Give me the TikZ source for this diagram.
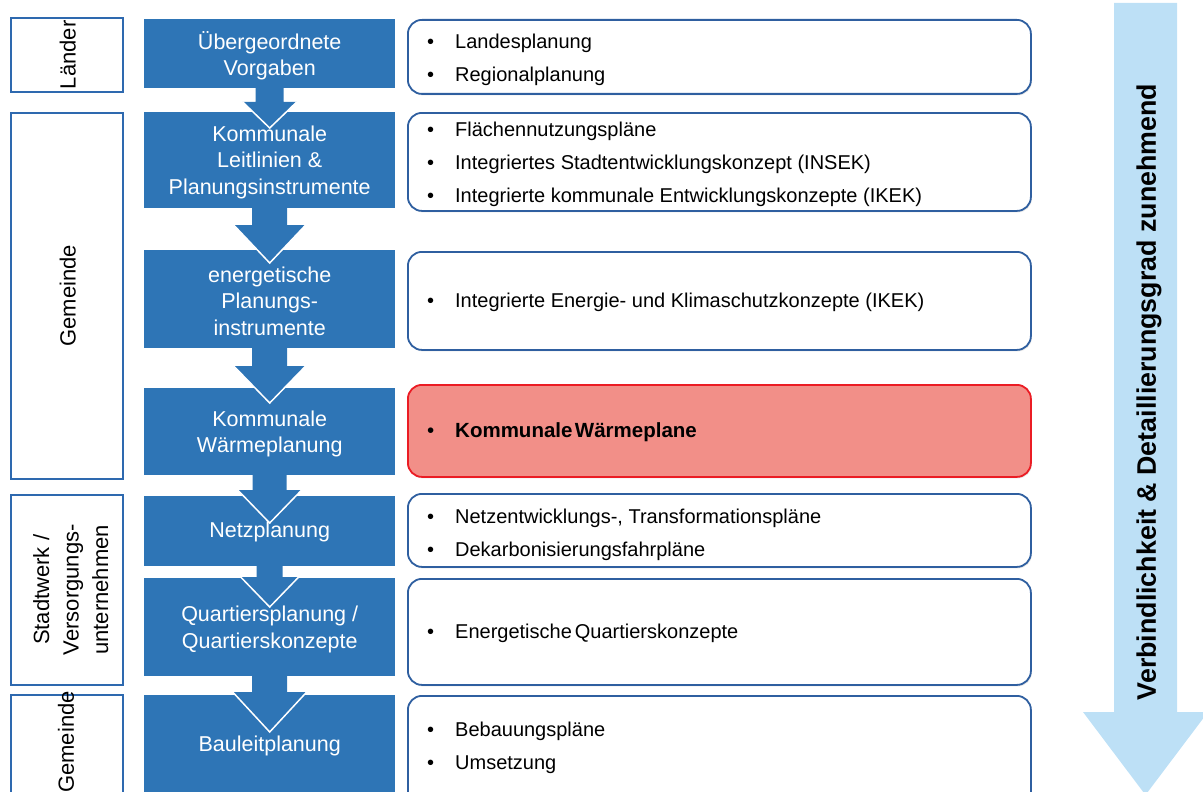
\documentclass[tikz,border=0pt]{standalone}
\usepackage{fontspec}
\setmainfont{Liberation Sans}
\usetikzlibrary{calc,shadows}
\definecolor{boxblue}{RGB}{46,117,182}
\definecolor{frameblue}{RGB}{47,95,160}
\definecolor{leftblue}{RGB}{46,105,175}
\definecolor{redfill}{RGB}{242,143,136}
\definecolor{redframe}{RGB}{235,28,36}
\definecolor{lightblue}{RGB}{189,224,246}
\newcommand{\bul}{\makebox[28pt][l]{•}}
% #1 upper node, #2 lower node, #3 shaft half width, #4 head half width,
% #5 head top offset from lower top, #6 tip offset from lower top
\newcommand{\stagearrow}[6]{%
  \coordinate (t) at ($(#1.south)+(0,-1)$);
  \coordinate (h) at ($(#2.north)+(0,#5)$);
  \coordinate (p) at ($(#2.north)+(0,#6)$);
  \fill[boxblue] ($(t)+(-#3,0)$) -- ($(t)+(#3,0)$) -- ($(h)+(#3,0)$) -- ($(h)+(#4,0)$)
     -- (p) -- ($(h)+(-#4,0)$) -- ($(h)+(-#3,0)$) -- cycle;
  \draw[white, line width=1.5pt, line join=miter] ($(h)+(-#4,0)$) -- (p) -- ($(h)+(#4,0)$);
}
\begin{document}
\begin{tikzpicture}[x=1pt,y=-1pt,
  stage/.style={fill=boxblue, minimum width=251pt, anchor=north west, inner sep=0pt},
  stagetext/.style={text=white, inner sep=0pt, align=center, font=\fontsize{21.5}{26.5}\selectfont},
  actor/.style={draw=leftblue, line width=1.6pt, fill=white, minimum width=112pt,
    anchor=north west, inner sep=0pt},
  actortext/.style={rotate=90, align=center, inner sep=0pt, font=\fontsize{22}{29.5}\selectfont},
  detail/.style={draw=frameblue, line width=1.8pt, fill=white, rounded corners=14pt,
    minimum width=623pt, anchor=north west, inner sep=0pt,
    drop shadow={shadow xshift=1pt, shadow yshift=-1.5pt, opacity=0.2}},
  detailtext/.style={anchor=west, align=left, inner sep=0pt, font=\fontsize{20}{33}\selectfont},
]
\useasboundingbox (0,0) rectangle (1203,792);
\clip (0,0) rectangle (1203,792);

% left actor boxes
\node[actor, minimum height=74pt] (a1) at (10,17) {};
\node[actortext] (a1t) at ($(a1.center)+(1,0)$) {Länder};
\node[actor, minimum height=366pt] (a2) at (10,112) {};
\node[actortext] (a2t) at ($(a2.center)+(1,0)$) {Gemeinde};
\node[actor, minimum height=190pt] (a3) at (10,494) {};
\node[actortext] (a3t) at ($(a3.center)+(4,0)$) {Stadtwerk /\\Versorgungs-\\unternehmen};
\node[actor, minimum height=120pt] (a4) at (10,694) {};
\node[actortext] (a4t) at (66,742) {Gemeinde};

% blue stage boxes
\node[stage, minimum height=69pt] (s1) at (144,19) {};
\node[stage, minimum height=96pt] (s2) at (144,112) {};
\node[stage, minimum height=98pt] (s3) at (144,250) {};
\node[stage, minimum height=87pt] (s4) at (144,388) {};
\node[stage, minimum height=70pt] (s5) at (144,496) {};
\node[stage, minimum height=98pt] (s6) at (144,578) {};
\node[stage, minimum height=100pt] (s7) at (144,695) {};

% arrows between stages
\stagearrow{s1}{s2}{14}{27}{-10}{16}
\stagearrow{s2}{s3}{17.5}{36}{-25}{13}
\stagearrow{s3}{s4}{17.5}{36}{-22}{15}
\stagearrow{s4}{s5}{17}{32}{-6}{27}
\stagearrow{s5}{s6}{13}{29}{-1}{29}
\stagearrow{s6}{s7}{17.5}{37}{-3}{37}

% stage texts
\node[stagetext] (s1t) at ($(s1.center)+(0,2)$) {Übergeordnete\\Vorgaben};
\node[stagetext] (s2t) at ($(s2.center)+(0,2)$) {Kommunale\\Leitlinien \&\\Planungsinstrumente};
\node[stagetext] (s3t) at ($(s3.center)+(0,2)$) {energetische\\Planungs-\\instrumente};
\node[stagetext] (s4t) at ($(s4.center)+(0,2)$) {Kommunale\\Wärmeplanung};
\node[stagetext] (s5t) at ($(s5.center)+(0,1)$) {Netzplanung};
\node[stagetext] (s6t) at ($(s6.center)+(0,2)$) {Quartiersplanung /\\Quartierskonzepte};
\node[stagetext] (s7t) at ($(s7.center)+(0,1)$) {Bauleitplanung};

% detail boxes
\node[detail, minimum height=74pt] (d1) at (407,19) {};
\node[detailtext] (d1t) at (427,60) {\bul Landesplanung\\\bul Regionalplanung};
\node[detail, minimum height=98pt] (d2) at (407,112) {};
\node[detailtext] (d2t) at (427,164) {\bul Flächennutzungspläne\\\bul Integriertes Stadtentwicklungskonzept (INSEK)\\\bul Integrierte kommunale Entwicklungskonzepte (IKEK)};
\node[detail, minimum height=98pt] (d3) at (407,251) {};
\node[detailtext] (d3t) at (427,302) {\bul Integrierte Energie- und Klimaschutzkonzepte (IKEK)};
\node[detail, minimum height=92pt, draw=redframe, fill=redfill] (d4) at (407,384) {};
\node[detailtext, font=\fontsize{20.5}{33}\selectfont] (d4t) at (427,432) {\bul\textbf{Kommunale\hspace{0.12em}Wärmeplane}};
\node[detail, minimum height=73pt] (d5) at (407,493) {};
\node[detailtext] (d5t) at (427,535) {\bul Netzentwicklungs-, Transformationspläne\\\bul Dekarbonisierungsfahrpläne};
\node[detail, minimum height=106pt] (d6) at (407,578) {};
\node[detailtext] (d6t) at (427,633) {\bul Energetische\hspace{0.15em}Quartierskonzepte};
\node[detail, minimum height=120pt] (d7) at (407,695) {};
\node[detailtext] (d7t) at (427,748) {\bul Bebauungspläne\\\bul Umsetzung};

% big direction arrow
\fill[lightblue] (1114,3) -- (1177,3) -- (1177,712) -- (1208,712) -- (1145.5,795)
  -- (1083,712) -- (1114,712) -- cycle;
\node[rotate=90, inner sep=0pt, font=\fontsize{26.8}{30}\selectfont\bfseries] (dir) at (1149,392)
  {Verbindlichkeit \& Detaillierungsgrad zunehmend};
\end{tikzpicture}
\end{document}
